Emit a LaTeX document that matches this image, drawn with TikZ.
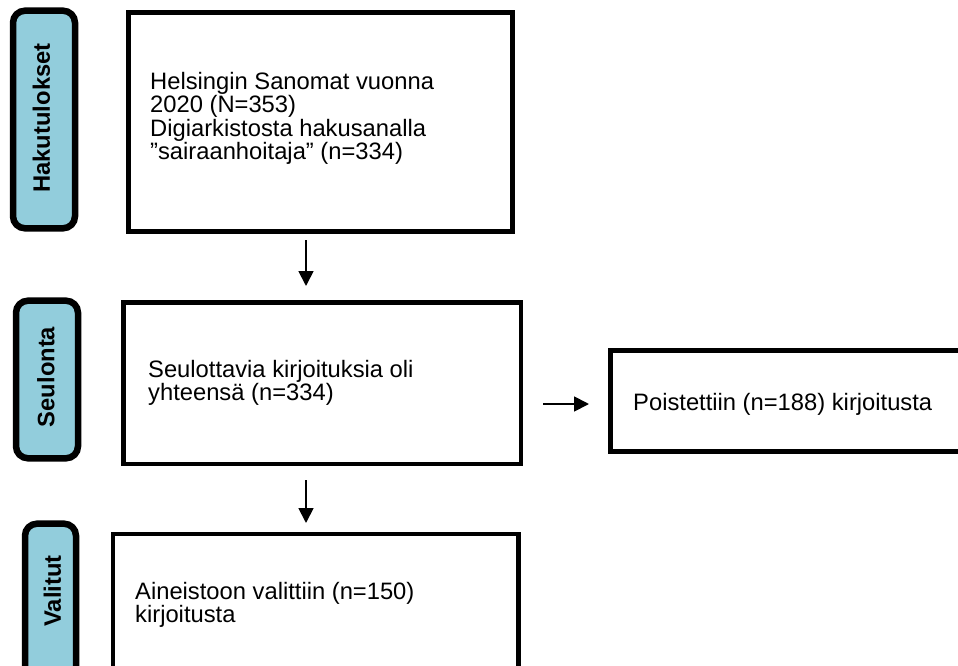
\documentclass[tikz,border=0pt]{standalone}
\usepackage{fontspec}
\setmainfont{Liberation Sans}
\usetikzlibrary{arrows.meta}
\definecolor{lblue}{RGB}{146,205,220}
\begin{document}
\begin{tikzpicture}[x=1pt,y=-1pt,
  box/.style={draw=black, line width=4.5pt, fill=white, inner sep=0pt},
  lbl/.style={draw=black, line width=6.5pt, fill=lblue, rounded corners=12pt, inner sep=0pt},
  txt/.style={anchor=west, inner sep=0pt, align=left, font=\fontsize{23.75}{23.5}\selectfont},
  ltxt/.style={rotate=90, inner sep=0pt, font=\fontsize{23.75}{23.5}\selectfont\bfseries},
  arr/.style={line width=1.8pt, -{Triangle[length=15pt,width=15pt]}}]
\useasboundingbox (0,0) rectangle (958,666);
\clip (0,0) rectangle (958,666);
\fill[white] (0,0) rectangle (958,666);
% stage labels
\node[lbl, minimum width=62pt, minimum height=217.6pt] (L1) at (44,119.5) {};
\node[lbl, minimum width=62pt, minimum height=157.6pt] (L2) at (47,379.5) {};
\node[lbl, minimum width=51pt, minimum height=176.3pt] (L3) at (50.5,611.85) {};
\node[ltxt] (t1) at (41.5,118) {Hakutulokset};
\node[ltxt] (t2) at (46,377) {Seulonta};
\node[ltxt] (t3) at (52.5,591) {Valitut};
% boxes
\node[box, minimum width=384pt, minimum height=219pt] (b1) at (320.5,122) {};
\node[box, minimum width=397.5pt, minimum height=161.5pt] (b2) at (322.25,383.25) {};
\node[box, minimum width=405.5pt, minimum height=156pt] (b3) at (315.75,612) {};
\node[box, minimum width=364.5pt, minimum height=101pt] (rb) at (792.75,401) {};
\node[txt] (x1) at (150,118.5) {Helsingin Sanomat vuonna\\2020 (N=353)\\Digiarkistosta hakusanalla\\”sairaanhoitaja” (n=334)};
\node[txt] (x2) at (148,383) {Seulottavia kirjoituksia oli\\yhteensä (n=334)};
\node[txt] (x3) at (135,605) {Aineistoon valittiin (n=150)\\kirjoitusta};
\node[txt] (x4) at (633,404) {Poistettiin (n=188) kirjoitusta};
% arrows
\coordinate (a1s) at (306,240);
\coordinate (a1e) at (306,286);
\coordinate (a2s) at (543,404);
\coordinate (a2e) at (589,404);
\coordinate (a3s) at (306,480);
\coordinate (a3e) at (306,523);
\draw[arr] (a1s) -- (a1e);
\draw[arr] (a2s) -- (a2e);
\draw[arr] (a3s) -- (a3e);
\end{tikzpicture}
\end{document}
